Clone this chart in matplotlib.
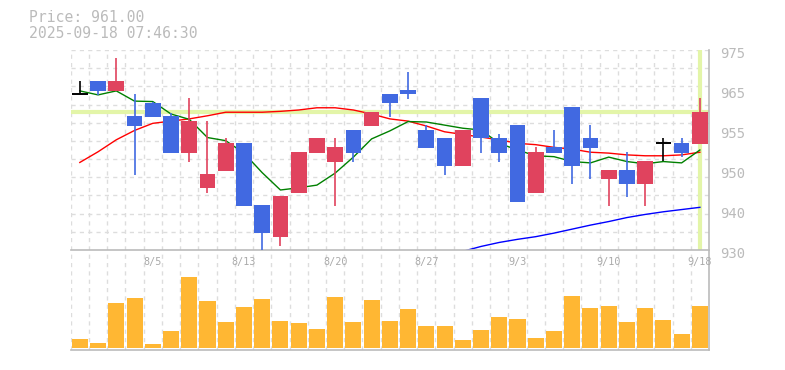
import numpy as np
import matplotlib.pyplot as plt

# データ (picture から読み取り)
dates = ["7/30", "7/31", "8/1", "8/4", "8/5", "8/6", "8/7", "8/8", "8/12", "8/13",
         "8/14", "8/15", "8/18", "8/19", "8/20", "8/21", "8/22", "8/25", "8/26", "8/27",
         "8/28", "8/29", "9/1", "9/2", "9/3", "9/4", "9/5", "9/8", "9/9", "9/10",
         "9/11", "9/12", "9/16", "9/17", "9/18"]
opens = [965.1, 968.0, 965.8, 960.2, 963.1, 960.2, 951.9, 944.0, 947.8, 954.1,
         940.1, 933.0, 942.9, 951.9, 949.9, 957.0, 958.0, 965.1, 966.0, 957.0,
         955.2, 949.0, 964.2, 955.2, 958.1, 942.9, 953.2, 962.2, 955.2, 946.0,
         948.0, 944.9, 954.0, 954.1, 953.9]
highs = [968.0, 968.0, 973.2, 965.1, 963.3, 960.9, 964.1, 959.0, 955.1, 954.1,
         940.1, 942.2, 952.1, 955.2, 955.2, 957.0, 961.1, 965.1, 970.1, 958.1,
         955.2, 957.0, 964.2, 956.1, 958.1, 953.2, 957.0, 962.2, 958.1, 948.0,
         952.1, 950.0, 955.2, 955.2, 964.2]
lows = [965.1, 964.9, 965.8, 946.9, 960.0, 951.9, 949.9, 942.9, 947.8, 940.0,
        930.0, 931.0, 942.9, 951.9, 940.0, 949.9, 958.0, 960.0, 964.0, 953.0,
        946.9, 949.0, 951.9, 949.9, 940.8, 942.9, 951.9, 944.9, 946.0, 940.0,
        942.0, 940.0, 950.0, 951.0, 953.9]
closes = [965.1, 965.8, 968.0, 958.0, 960.0, 951.9, 959.0, 947.1, 954.1, 940.0,
          933.9, 942.2, 952.1, 955.2, 953.2, 951.9, 961.0, 963.0, 965.0, 953.0,
          949.0, 957.0, 955.1, 951.9, 940.8, 952.1, 951.9, 949.0, 953.0, 948.0,
          944.9, 950.0, 954.0, 951.9, 961.0]
ma_short = [965.8, 964.9, 965.8, 963.5, 963.4, 960.6, 959.4, 955.3, 954.6, 951.8,
            947.4, 943.5, 944.0, 944.6, 947.3, 950.9, 955.0, 956.8, 958.9, 958.8,
            958.1, 957.4, 957.0, 954.0, 952.5, 951.2, 951.0, 949.9, 949.6, 950.9,
            949.9, 949.4, 949.9, 949.6, 952.5]
ma_mid = [949.7, 952.1, 954.8, 956.9, 958.5, 959.0, 959.5, 960.2, 961.0, 961.0,
          961.0, 961.2, 961.5, 962.0, 962.0, 961.5, 960.6, 959.5, 959.0, 957.9,
          956.6, 956.0, 955.4, 954.8, 954.0, 953.7, 953.1, 952.7, 952.0, 951.8,
          951.4, 951.2, 951.2, 951.4, 952.0]
ma_long = [929.7, 930.8, 931.7, 932.4, 933.0, 933.8, 934.7, 935.6, 936.4, 937.3,
           938.0, 938.6, 939.1, 939.6]  # 8/29 から
volumes = [9.3, 5.3, 45.7, 50.7, 4.3, 17.7, 71.7, 47.7, 26.7, 41.7,
           49.7, 27.7, 25.7, 19.7, 51.7, 26.7, 48.7, 27.7, 39.7, 22.7,
           22.7, 8.7, 18.7, 31.7, 29.7, 10.7, 17.7, 52.7, 40.7, 42.7,
           26.7, 40.7, 28.7, 14.7, 42.7]
price = 961.00
stamp = "2025-09-18 07:46:30"
ytick_labels = ["930", "940", "950", "955", "965", "975"]

UP = "#e0435e"
DOWN = "#4169e1"
GRID = "#dddddd"
FRAME = "#bbbbbb"
TXT = "#bbbbbb"
mono = "DejaVu Sans Mono"

n = len(closes)
x = np.arange(n)
ymin, ymax = 930, 975

fig = plt.figure(figsize=(7.85, 3.70), dpi=100)
ax = fig.add_axes([70.7 / 785, 120 / 370, 638.3 / 785, 200 / 370])
axv = fig.add_axes([70.7 / 785, 20 / 370, 638.3 / 785, 99 / 370])

for a in (ax, axv):
    a.set_xlim(-0.5, n - 0.5)
    for k in range(n):
        a.axvline(k - 0.5, color=GRID, lw=1, ls=(0, (3, 3)), zorder=0)
    for s in ("top", "left"):
        a.spines[s].set_visible(False)
    for s in ("right", "bottom"):
        a.spines[s].set_color(FRAME)
        a.spines[s].set_linewidth(1.2)
    a.set_xticks([])
    a.set_yticks([])

# 価格チャート
ax.set_ylim(ymin, ymax)
for k in range(1, 12):
    ax.axhline(ymin + k * (ymax - ymin) / 11, color=GRID, lw=1, ls=(0, (3, 3)), zorder=0)
# 目盛りラベル (右側)
for v, lab in zip(np.linspace(ymin, ymax, 6), ytick_labels):
    ax.annotate(lab, xy=(1, v), xycoords=ax.get_yaxis_transform(),
                xytext=(8, -3), textcoords="offset points", ha="left", va="center",
                fontsize=10, color=TXT, fontfamily=mono, annotation_clip=False)

ax.axhline(price, color="#e3f5a8", lw=3, zorder=1)
ax.axvline(x[-1], color="#e3f5a8", lw=3, ymax=0.99, zorder=1)

ax.plot(x, ma_mid, color="red", lw=1, zorder=2)
ax.plot(x, ma_short, color="green", lw=1, zorder=2)
ax.plot(x[n - len(ma_long):], ma_long, color="blue", lw=1, zorder=2)

w = 0.86
for i in range(n):
    o, h, l, c = opens[i], highs[i], lows[i], closes[i]
    if abs(c - o) < 0.05:
        col = "black"
        ax.vlines(i, l, h, color=col, lw=1.2, zorder=3)
        ax.hlines(o, i - w / 2, i + w / 2, color=col, lw=1.4, zorder=3)
        continue
    col = UP if c > o else DOWN
    ax.vlines(i, l, h, color=col, lw=1.2, zorder=3)
    ax.bar(i, abs(c - o), bottom=min(o, c), width=w, color=col, lw=0, zorder=4)

# 出来高
axv.bar(x, volumes, width=0.88, color="#ffb733", lw=0, zorder=2)
axv.set_ylim(-1.7, 97.3)
for i in range(4, n, 5):
    axv.text(i, 0.886, dates[i], transform=axv.get_xaxis_transform(), ha="center",
             va="center", fontsize=7.3, color="#aaaaaa", fontfamily=mono, zorder=5)

fig.text(29 / 785, 1 - 18 / 370, "Price: %.2f" % price, fontsize=10.6, color=TXT,
         fontfamily=mono, va="center")
fig.text(29 / 785, 1 - 33 / 370, stamp, fontsize=10.6, color=TXT,
         fontfamily=mono, va="center")

fig.savefig("out.png", dpi=100)
